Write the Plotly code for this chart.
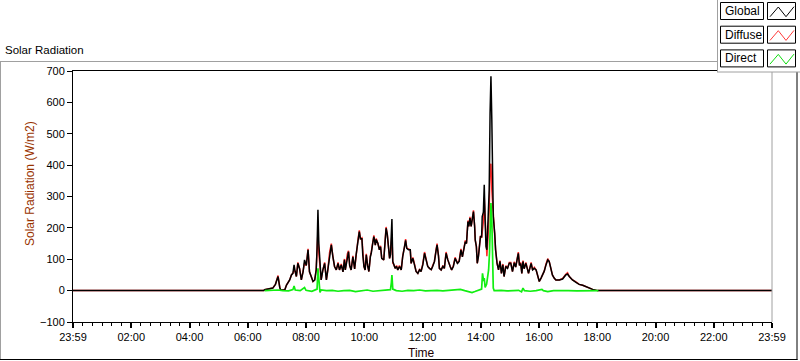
import plotly.graph_objects as go

# ---------------- data ----------------
x_tick_hours = [0, 2, 4, 6, 8, 10, 12, 14, 16, 18, 20, 22, 24]
x_tick_labels = ["23:59", "02:00", "04:00", "06:00", "08:00", "10:00", "12:00",
                 "14:00", "16:00", "18:00", "20:00", "22:00", "23:59"]
y_tick_values = [-100, 0, 100, 200, 300, 400, 500, 600, 700]

t_global = [0.00, 6.55, 6.58, 6.86, 6.95, 7.04, 7.10, 7.13, 7.27, 7.33, 7.44, 7.50, 7.55, 7.59,
            7.63, 7.67, 7.72, 7.78, 7.84, 7.90, 7.95, 8.01, 8.07, 8.12, 8.18, 8.24, 8.30, 8.35,
            8.38, 8.41, 8.44, 8.48, 8.52, 8.58, 8.64, 8.70, 8.75, 8.81, 8.87, 8.92, 8.98, 9.04,
            9.10, 9.15, 9.21, 9.27, 9.32, 9.35, 9.42, 9.46, 9.50, 9.55, 9.61, 9.67, 9.72, 9.78,
            9.83, 9.87, 9.92, 9.95, 9.99, 10.03, 10.07, 10.12, 10.16, 10.21, 10.24, 10.30, 10.33,
            10.38, 10.41, 10.47, 10.52, 10.56, 10.60, 10.67, 10.72, 10.75, 10.79, 10.83, 10.87,
            10.90, 10.95, 10.98, 11.02, 11.06, 11.11, 11.15, 11.21, 11.27, 11.32, 11.38, 11.42,
            11.46, 11.52, 11.58, 11.61, 11.67, 11.72, 11.78, 11.84, 11.90, 11.95, 12.01, 12.07,
            12.13, 12.18, 12.24, 12.30, 12.35, 12.41, 12.47, 12.50, 12.55, 12.58, 12.64, 12.70,
            12.75, 12.81, 12.87, 12.90, 12.95, 13.00, 13.06, 13.12, 13.16, 13.20, 13.26, 13.32,
            13.37, 13.41, 13.47, 13.51, 13.56, 13.59, 13.63, 13.67, 13.71, 13.75, 13.79, 13.81,
            13.85, 13.88, 13.92, 13.95, 13.99, 14.03, 14.05, 14.09, 14.12, 14.15, 14.18, 14.21,
            14.25, 14.29, 14.32, 14.35, 14.38, 14.40, 14.43, 14.48, 14.51, 14.56, 14.61, 14.66,
            14.71, 14.76, 14.80, 14.86, 14.92, 14.98, 15.03, 15.09, 15.15, 15.20, 15.26, 15.29,
            15.33, 15.37, 15.41, 15.45, 15.49, 15.55, 15.64, 15.68, 15.73, 15.78, 15.84, 15.90,
            15.95, 16.01, 16.07, 16.12, 16.18, 16.24, 16.30, 16.35, 16.41, 16.46, 16.52, 16.58,
            16.70, 16.81, 16.92, 16.98, 17.04, 17.15, 17.27, 17.38, 17.50, 17.61, 17.72, 17.84,
            18.01, 24.00]

global_wm2 = [0, 0, 3, 8, 20, 45, 10, 2, 2, 18, 34, 50, 55, 82,
              60, 45, 87, 70, 34, 60, 98, 80, 130, 60, 45, 29, 34, 66,
              135, 258, 150, 66, 34, 66, 87, 34, 66, 119, 146, 110, 77, 66,
              87, 66, 82, 60, 98, 66, 114, 124, 80, 66, 108, 69, 114, 156,
              188, 165, 165, 114, 77, 66, 114, 77, 61, 108, 119, 156, 172,
              145, 163, 150, 130, 140, 103, 98, 153, 199, 180, 140, 103,
              114, 228, 93, 82, 71, 77, 66, 77, 66, 108, 135, 160,
              135, 130, 130, 87, 103, 87, 61, 55, 66, 61, 82, 119,
              98, 77, 71, 67, 77, 93, 130, 146, 110, 71, 66, 77,
              71, 119, 98, 87, 77, 66, 77, 103, 93, 87, 93, 130,
              108, 130, 156, 150, 220, 205, 231, 205, 231, 252, 205, 162,
              140, 87, 108, 141, 172, 172, 236, 250, 337, 225, 141, 130,
              205, 321, 566, 683, 545, 353, 236, 183, 130, 87, 66, 93,
              55, 82, 45, 77, 71, 87, 87, 61, 89, 75, 114, 119,
              80, 87, 55, 93, 70, 87, 55, 70, 87, 66, 71, 66,
              50, 29, 40, 50, 62, 82, 98, 93, 66, 50, 40, 34,
              34, 37, 50, 53, 45, 34, 26, 20, 17, 13, 8, 4,
              0, 0]

diffuse_wm2 = [0, 0, 3, 8, 20, 48, 10, 2, 2, 18, 34, 50, 55, 67,
               60, 45, 90, 70, 34, 60, 88, 80, 133, 60, 45, 29, 34, 66,
               130, 187, 120, 72, 34, 66, 90, 34, 66, 122, 150, 110, 77, 66,
               90, 66, 85, 60, 101, 66, 117, 127, 80, 66, 111, 69, 117, 159,
               192, 165, 168, 114, 77, 66, 117, 77, 61, 111, 122, 159, 176,
               145, 166, 150, 130, 143, 103, 98, 156, 203, 180, 140, 103,
               117, 178, 88, 82, 71, 80, 66, 80, 66, 111, 138, 164,
               135, 133, 130, 87, 106, 87, 61, 55, 69, 61, 85, 123,
               98, 77, 71, 67, 80, 93, 133, 150, 110, 71, 66, 80,
               71, 123, 98, 87, 77, 66, 80, 106, 93, 87, 96, 133,
               108, 133, 160, 150, 223, 205, 235, 205, 234, 256, 205, 162,
               140, 87, 111, 141, 175, 168, 181, 220, 297, 215, 141, 110,
               170, 255, 400, 404, 320, 287, 228, 183, 130, 87, 66, 96,
               55, 85, 45, 80, 71, 90, 90, 61, 92, 75, 117, 123,
               80, 90, 55, 96, 70, 90, 55, 70, 90, 66, 74, 66,
               50, 29, 40, 50, 62, 85, 102, 93, 66, 50, 40, 34,
               34, 39, 52, 57, 45, 34, 28, 20, 17, 13, 8, 4,
               0, 0]

t_direct = [6.58, 6.70, 6.86, 7.04, 7.20, 7.40, 7.55, 7.59, 7.63, 7.80, 7.95, 8.00, 8.20, 8.38,
            8.41, 8.44, 8.48, 8.52, 8.70, 8.90, 9.10, 9.30, 9.50, 9.70, 9.90, 10.10, 10.30, 10.50,
            10.70, 10.90, 10.93, 10.95, 10.98, 11.10, 11.30, 11.50, 11.70, 11.90, 12.10, 12.30,
            12.50, 12.70, 12.90, 13.10, 13.30, 13.45, 13.60, 13.70, 13.80, 13.90, 14.03, 14.06,
            14.10, 14.12, 14.15, 14.20, 14.27, 14.30, 14.35, 14.38, 14.40, 14.43, 14.46, 14.70,
            14.90, 15.10, 15.30, 15.40, 15.45, 15.50, 15.70, 15.90, 16.10, 16.15, 16.30, 16.50,
            16.80, 17.00, 17.30, 17.60, 18.04]

direct_wm2 = [0, 1, 0, 2, 0, -1, 3, 15, 2, 0, 10, 1, -2, 5,
              71, 30, -6, 2, 0, 1, -2, 0, 1, -3, 0, 2, -2, 0,
              1, 3, 25, 50, 5, 0, -2, 1, 0, 2, -1, 0,
              1, -1, 0, 1, 4, 0, -4, -6, -3, 0, 5, 55,
              30, 40, 10, 20, 66, 119, 279, 225, 66, 8, 0, 1,
              -1, 0, 1, -4, 8, 0, -2, 0, 4, 0, -3, 0,
              1, 0, -1, 0, 0]

# ---------------- layout helpers (pixel -> paper) ----------------
W, H = 800, 361
PL, PR, PT, PB = 73, 772, 71, 322


def px(x):
    return (x - PL) / (PR - PL)


def py(y):
    return (PB - y) / (PB - PT)


FONT = "Liberation Sans, Arial, sans-serif"

fig = go.Figure()
fig.add_trace(go.Scatter(x=t_global, y=diffuse_wm2, mode="lines", name="Diffuse",
                         line=dict(color="#ff2a2a", width=1.5)))
fig.add_trace(go.Scatter(x=t_global, y=global_wm2, mode="lines", name="Global",
                         line=dict(color="#000000", width=1.5)))
fig.add_trace(go.Scatter(x=t_direct, y=direct_wm2, mode="lines", name="Direct",
                         line=dict(color="#11ee11", width=1.7)))

shapes = []
# outer frame
shapes.append(dict(type="line", xref="paper", yref="paper", x0=px(0), x1=px(797), y0=py(61.5), y1=py(61.5),
                   line=dict(color="#a0a0a0", width=1)))
shapes.append(dict(type="line", xref="paper", yref="paper", x0=px(0.5), x1=px(0.5), y0=py(61.5), y1=py(360),
                   line=dict(color="#a0a0a0", width=1)))
shapes.append(dict(type="line", xref="paper", yref="paper", x0=px(0), x1=px(797.5), y0=py(359.5), y1=py(359.5),
                   line=dict(color="#000000", width=1)))
shapes.append(dict(type="line", xref="paper", yref="paper", x0=px(797), x1=px(797), y0=py(61.5), y1=py(360),
                   line=dict(color="#000000", width=1)))
# right border of plot area (gray)
shapes.append(dict(type="line", xref="paper", yref="paper", x0=px(772), x1=px(772), y0=py(61.5), y1=py(322),
                   line=dict(color="#a0a0a0", width=1)))
# legend panel
shapes.append(dict(type="rect", xref="paper", yref="paper", x0=px(717), x1=px(800), y0=py(0), y1=py(72),
                   fillcolor="white", line=dict(width=0)))
shapes.append(dict(type="line", xref="paper", yref="paper", x0=px(717.5), x1=px(717.5), y0=py(0), y1=py(72),
                   line=dict(color="#a0a0a0", width=1)))
shapes.append(dict(type="line", xref="paper", yref="paper", x0=px(717), x1=px(800), y0=py(72), y1=py(72),
                   line=dict(color="#a0a0a0", width=1)))

legend_items = [("Global", "#000000", 0.0), ("Diffuse", "#ff3a3a", 23.7), ("Direct", "#11dd11", 47.4)]
annotations = []
for name, col, dy in legend_items:
    top, bot = 2.5 + dy, 19.5 + dy
    shapes.append(dict(type="rect", xref="paper", yref="paper", x0=px(720.5), x1=px(763.5),
                       y0=py(top), y1=py(bot), line=dict(color="black", width=1), fillcolor="white"))
    shapes.append(dict(type="rect", xref="paper", yref="paper", x0=px(767.5), x1=px(795.5),
                       y0=py(top), y1=py(bot), line=dict(color="black", width=1), fillcolor="white"))
    pts = [(770, 16.7 + dy), (778.3, 7.0 + dy), (786, 16.7 + dy), (794, 6.7 + dy)]
    path = "M " + " L ".join(f"{px(a):.5f},{py(b):.5f}" for a, b in pts)
    shapes.append(dict(type="path", xref="paper", yref="paper", path=path,
                       line=dict(color=col, width=1)))
    annotations.append(dict(xref="paper", yref="paper", x=px(722.5), y=py((top + bot) / 2),
                            xanchor="left", yanchor="middle", text=name, showarrow=False,
                            font=dict(family=FONT, size=12, color="black")))

annotations.append(dict(xref="paper", yref="paper", x=px(3), y=py(50), xanchor="left", yanchor="middle",
                        text="Solar Radiation", showarrow=False,
                        font=dict(family=FONT, size=11.5, color="black")))
annotations.append(dict(xref="paper", yref="paper", x=px(30), y=py(184), xanchor="center", yanchor="middle",
                        text="Solar Radiation (W/m2)", textangle=-90, showarrow=False,
                        font=dict(family=FONT, size=12, color="#993300")))
annotations.append(dict(xref="paper", yref="paper", x=px(421), y=py(353), xanchor="center", yanchor="middle",
                        text="Time", showarrow=False,
                        font=dict(family=FONT, size=12, color="#200000")))

fig.update_layout(
    width=W, height=H,
    margin=dict(l=PL, r=W - PR, t=PT, b=H - PB, autoexpand=False),
    paper_bgcolor="white", plot_bgcolor="white",
    showlegend=False,
    shapes=shapes, annotations=annotations,
    font=dict(family=FONT, size=11, color="black"),
)
fig.update_xaxes(range=[0, 24], tickmode="array", tickvals=x_tick_hours, ticktext=x_tick_labels,
                 showgrid=False, zeroline=False, showline=True, linecolor="black", linewidth=1,
                 mirror=True, ticks="outside", ticklen=5, tickwidth=2, tickcolor="black",
                 tickfont=dict(family=FONT, size=11, color="black"),
                 minor=dict(tickmode="linear", tick0=0, dtick=1 / 3, ticks="outside", ticklen=3,
                            tickwidth=1, tickcolor="black", showgrid=False),
                 automargin=False)
fig.update_yaxes(range=[-100, 700], tickmode="array", tickvals=y_tick_values,
                 showgrid=False, zeroline=False, showline=True, linecolor="black", linewidth=1,
                 ticks="outside", ticklen=5, tickwidth=1, tickcolor="black",
                 tickfont=dict(family=FONT, size=11, color="black"), automargin=False)

fig.write_html("out.html", config={"displayModeBar": False},
               post_script="document.body.style.margin='0';document.body.style.overflow='hidden';")
